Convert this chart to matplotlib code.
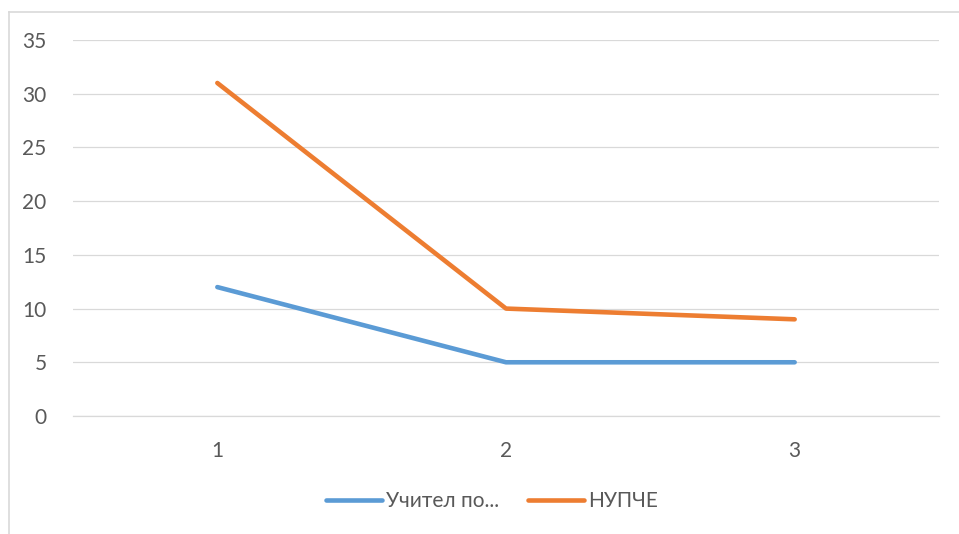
import matplotlib.pyplot as plt
from matplotlib.lines import Line2D

plt.rcParams['font.family'] = ['Lato', 'DejaVu Sans']

# Данни
kategorii = [1, 2, 3]
uchitel = [12, 5, 5]
nupche = [31, 10, 9]
etiketi = ['Учител по...', 'НУПЧЕ']
y_ticks = [0, 5, 10, 15, 20, 25, 30, 35]

fig = plt.figure(figsize=(9.59, 5.34), dpi=100)
ax = fig.add_axes([73 / 959, 118 / 534, 866 / 959, 376 / 534])

ax.plot(kategorii, uchitel, color='#5B9BD5', lw=3.3, solid_capstyle='round', label=etiketi[0])
ax.plot(kategorii, nupche, color='#ED7D31', lw=3.3, solid_capstyle='round', label=etiketi[1])

ax.set_xlim(0.5, 3.5)
ax.set_ylim(0, 35)
ax.set_yticks(y_ticks)
ax.set_xticks(kategorii)
ax.yaxis.grid(True, color='#D9D9D9', lw=0.9)
ax.set_axisbelow(True)
for s in ax.spines.values():
    s.set_visible(False)
ax.spines['bottom'].set_visible(True)
ax.spines['bottom'].set_color('#D9D9D9')
ax.spines['bottom'].set_linewidth(0.9)
ax.tick_params(length=0, labelsize=15, labelcolor='#595959')
ax.tick_params(axis='y', pad=19)
ax.tick_params(axis='x', pad=18)

fig.legend(loc='center', bbox_to_anchor=(492 / 959, 33 / 534), ncol=2, frameon=False,
           fontsize=15, labelcolor='#595959', handlelength=2.7, handletextpad=0.2,
           columnspacing=1.4)

# рамка на диаграмата (лява и горна)
fig.add_artist(Line2D([8.5 / 959, 8.5 / 959], [0, (534 - 11.5) / 534], color='#D9D9D9', lw=1.2))
fig.add_artist(Line2D([8.5 / 959, 1], [(534 - 11.5) / 534] * 2, color='#D9D9D9', lw=1.2))

fig.savefig('out.png', dpi=100)
